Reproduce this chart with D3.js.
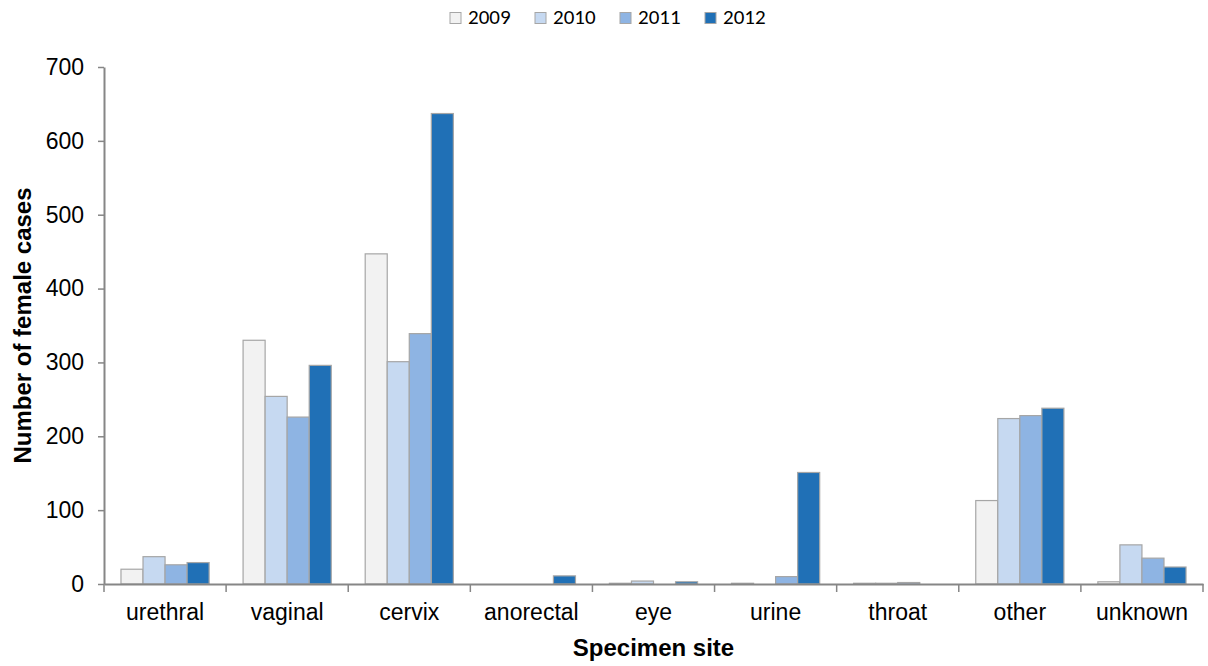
<!DOCTYPE html>
<html><head><meta charset="utf-8">
<script src="https://cdn.jsdelivr.net/npm/d3@7"></script>
<style>body{margin:0;background:#fff}svg{display:block}</style>
</head><body>
<svg id="c" width="1208" height="666"></svg>
<script>
const categories = ["urethral","vaginal","cervix","anorectal","eye","urine","throat","other","unknown"];
const years = ["2009","2010","2011","2012"];
const v2009 = [20,330,447,0,1,1,1,113,3];
const v2010 = [37,254,301,0,4,0,1,224,53];
const v2011 = [26,226,339,0,0,10,2,228,35];
const v2012 = [29,296,637,11,3,151,0,238,23];
const yTicks = [0,100,200,300,400,500,600,700];
const colors = ["#f2f2f2","#c6d9f1","#8eb4e3","#2070b6"];
const series = [v2009,v2010,v2011,v2012];

const svg = d3.select("#c");
const L=104, R=1203, T=67, B=584;
const FONT = "Liberation Sans, Arial, sans-serif";
const x = d3.scaleBand().domain(categories).range([L,R]).paddingInner(0).paddingOuter(0);
const x1 = d3.scaleBand().domain(years).range([0,x.bandwidth()]).paddingInner(0).paddingOuter(0.77);
const y = d3.scaleLinear().domain([0,700]).range([B,T]);

// bars
categories.forEach((c,i)=>{
  years.forEach((yr,j)=>{
    const val = series[j][i];
    if (val<=0) return;
    svg.append("rect")
      .attr("x", x(c)+x1(yr))
      .attr("y", y(val))
      .attr("width", x1.bandwidth())
      .attr("height", B-y(val))
      .attr("fill", colors[j])
      .attr("stroke", "#a6a6a6")
      .attr("stroke-width", 1.2);
  });
});

// y axis
const ya = svg.append("g").attr("transform",`translate(${L},0)`)
  .call(d3.axisLeft(y).tickValues(yTicks).tickSize(6).tickPadding(14).tickSizeOuter(0));
ya.select(".domain").attr("stroke","#868686").attr("stroke-width",2);
ya.selectAll(".tick line").attr("stroke","#868686").attr("stroke-width",1.5);
ya.selectAll("text").attr("font-family",FONT).attr("font-size",23).attr("fill","#000");

// x axis
const xa = svg.append("g").attr("transform",`translate(0,${B})`)
  .call(d3.axisBottom(x).tickSize(0).tickPadding(0));
xa.select(".domain").attr("stroke","#868686").attr("stroke-width",2);
xa.selectAll("text").attr("font-family",FONT).attr("font-size",23).attr("fill","#000")
  .attr("dy",null).attr("y",36);
// boundary ticks
const bounds = categories.map(c=>x(c)).concat([x.range()[1]]);
svg.append("g").selectAll("line").data(bounds).join("line")
  .attr("x1",d=>d).attr("x2",d=>d).attr("y1",B).attr("y2",B+8)
  .attr("stroke","#868686").attr("stroke-width",1.5);

// titles
svg.append("text").attr("x",(L+R)/2).attr("y",656).attr("text-anchor","middle")
  .attr("font-family",FONT).attr("font-weight","bold").attr("font-size",24)
  .text("Specimen site");
svg.append("text").attr("transform",`translate(31,${(T+B)/2}) rotate(-90)`).attr("text-anchor","middle")
  .attr("font-family",FONT).attr("font-weight","bold").attr("font-size",24)
  .text("Number of female cases");

// legend
const lg = svg.append("g");
const lx0 = 450, step = 85;
years.forEach((yr,j)=>{
  const gx = lx0 + j*step;
  lg.append("rect").attr("x",gx).attr("y",12.5).attr("width",11).attr("height",11)
    .attr("fill",colors[j]).attr("stroke","#a6a6a6").attr("stroke-width",1);
  lg.append("text").attr("x",gx+18).attr("y",23.5)
    .attr("font-family","Carlito, Lato, sans-serif").attr("font-size",21).attr("fill","#000").text(yr);
});
</script>
</body></html>
